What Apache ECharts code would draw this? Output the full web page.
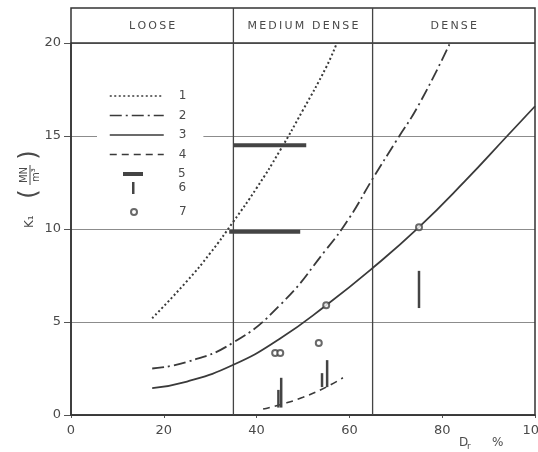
<!DOCTYPE html>
<html>
<head>
<meta charset="utf-8">
<script src="https://cdn.jsdelivr.net/npm/echarts@6/dist/echarts.min.js"></script>
<style>
  html, body { margin: 0; padding: 0; background: #fff; }
  #chart { width: 538px; height: 452px; }
</style>
</head>
<body>
<div id="chart"></div>
<script>
// Relative density D_r (%) against modulus K1 (MN/m3)
const xTicks = [0, 20, 40, 60, 80, 100];
const yTicks = [0, 5, 10, 15, 20];
const zones = ['LOOSE', 'MEDIUM DENSE', 'DENSE'];
const zoneBounds = [0, 35, 65, 100];

// curves: [Dr, K1]
const curve1 = [[17.5, 5.2], [25, 7.2], [30, 8.7], [35, 10.4], [40, 12.2], [45, 14.2], [50, 16.4], [55, 18.7], [57.3, 20]];
const curve2 = [[17.5, 2.5], [25, 2.85], [35, 3.9], [45, 5.9], [55, 8.9], [60, 10.6], [65, 12.7], [70, 14.7], [75, 16.7], [81.7, 20]];
const curve3 = [[17.5, 1.45], [25, 1.8], [35, 2.7], [45, 4.1], [55, 5.9], [65, 7.9], [75, 10.1], [85, 12.6], [94, 15.0], [100, 16.6]];
const curve4 = [[41.4, 0.32], [45, 0.55], [50, 0.95], [55, 1.5], [58.6, 2.0]];

// ranges of type 5: [Dr from, Dr to, K1]
const hBars = [[35, 50.7, 14.5], [34.1, 49.4, 9.85]];
// ranges of type 6: [Dr, K1 from, K1 to]
const vBars = [[75, 5.75, 7.75], [45.3, 0.4, 2.0], [44.7, 0.4, 1.35], [55.2, 1.5, 2.95], [54.1, 1.5, 2.25]];
// single values of type 7: [Dr, K1]
const points = [[44.0, 3.33], [45.1, 3.33], [53.4, 3.87], [55, 5.9], [75, 10.1]];

const INK = '#3a3a3a';
const TXT = '#4a4a4a';
const FONT = 'DejaVu Sans';

function spaced(s) {
  return s.split(' ').map(w => w.split('').join('\u2009')).join('\u2009 \u2009');
}

const chart = echarts.init(document.getElementById('chart'), null, { renderer: 'canvas' });

const lineSeries = (name, data, type, width) => ({
  name, type: 'line', data, smooth: true, showSymbol: false, symbol: 'none',
  lineStyle: { color: INK, width, type }, itemStyle: { color: INK }, z: 3
});

const option = {
  animation: false,
  backgroundColor: '#fff',
  textStyle: { fontFamily: FONT },
  grid: { left: 71, right: 3, top: 43, bottom: 37, outerBoundsMode: 'none', containLabel: false },
  xAxis: {
    type: 'value', min: xTicks[0], max: xTicks[xTicks.length - 1], interval: 20,
    axisLine: { lineStyle: { color: '#333', width: 1.5 } },
    axisTick: { show: true, length: 3, lineStyle: { color: '#555' } },
    axisLabel: { color: TXT, fontSize: 13, margin: 9, fontFamily: FONT },
    splitLine: { show: false }
  },
  yAxis: {
    type: 'value', min: yTicks[0], max: yTicks[yTicks.length - 1], interval: 5,
    axisLine: { show: true, lineStyle: { color: '#333', width: 1.5 } },
    axisTick: { show: true, length: 7, lineStyle: { color: '#555' } },
    axisLabel: { color: TXT, fontSize: 13, margin: 10, fontFamily: FONT },
    splitLine: { show: true, lineStyle: { color: '#8c8c8c', width: 1 } }
  },
  legend: [
    {
      data: ['1', '2', '3', '4'], orient: 'vertical', left: 97, top: 84,
      itemWidth: 54, itemHeight: 10, itemGap: 7.5,
      backgroundColor: '#fff', padding: [6, 17, 6, 12],
      lineStyle: { width: 1.5 },
      itemStyle: { opacity: 0 },
      textStyle: { color: TXT, fontSize: 12, fontFamily: FONT, padding: [0, 0, 0, 10] },
      selectedMode: false
    },
    {
      data: [{ name: '5', icon: 'rect' }], left: 123, top: 168,
      itemWidth: 20, itemHeight: 4, padding: 0,
      textStyle: { color: TXT, fontSize: 12, fontFamily: FONT, padding: [0, 0, 0, 30] },
      selectedMode: false
    },
    {
      data: [{ name: '6', icon: 'rect' }], left: 132, top: 182,
      itemWidth: 2.5, itemHeight: 12, padding: 0,
      textStyle: { color: TXT, fontSize: 12, fontFamily: FONT, padding: [0, 0, 0, 39] },
      selectedMode: false
    },
    {
      data: ['7'], left: 130, top: 206,
      itemWidth: 6, itemHeight: 6, padding: 0,
      itemStyle: { borderWidth: 1.5 },
      textStyle: { color: TXT, fontSize: 12, fontFamily: FONT, padding: [0, 0, 0, 37] },
      selectedMode: false
    }
  ],
  series: [
    lineSeries('1', curve1, [2, 2.5], 2),
    lineSeries('2', curve2, [12, 4, 2, 4], 1.8),
    lineSeries('3', curve3, 'solid', 1.8),
    lineSeries('4', curve4, [7, 5], 1.6),
    {
      name: '5', type: 'custom', data: hBars, encode: { x: [0, 1], y: 2 },
      itemStyle: { color: '#444' }, z: 4,
      renderItem: (params, api) => {
        const a = api.coord([api.value(0), api.value(2)]);
        const b = api.coord([api.value(1), api.value(2)]);
        return { type: 'line', shape: { x1: a[0], y1: a[1], x2: b[0], y2: b[1] },
                 style: { stroke: '#444', lineWidth: 4 } };
      }
    },
    {
      name: '6', type: 'custom', data: vBars, encode: { x: 0, y: [1, 2] },
      itemStyle: { color: '#444' }, z: 4,
      renderItem: (params, api) => {
        const a = api.coord([api.value(0), api.value(1)]);
        const b = api.coord([api.value(0), api.value(2)]);
        return { type: 'line', shape: { x1: a[0], y1: a[1], x2: b[0], y2: b[1] },
                 style: { stroke: '#444', lineWidth: 2.5 } };
      }
    },
    {
      name: '7', type: 'scatter', data: points, symbol: 'emptyCircle', symbolSize: 6,
      itemStyle: { color: '#444', borderWidth: 1.5 }, z: 5
    }
  ]
};

chart.setOption(option);

// frame, zone header and axis titles placed from the axis scales
const px = v => chart.convertToPixel({ xAxisIndex: 0 }, v);
const py = v => chart.convertToPixel({ yAxisIndex: 0 }, v);
const xL = px(zoneBounds[0]), xR = px(zoneBounds[3]);
const yB = py(yTicks[0]), y20 = py(yTicks[yTicks.length - 1]);
const headTop = 8;

const graphic = [
  { type: 'rect', z: 2, shape: { x: xL, y: headTop, width: xR - xL, height: yB - headTop },
    style: { fill: null, stroke: '#333', lineWidth: 1.5 } },
  { type: 'line', z: 2, shape: { x1: xL, y1: y20, x2: xR, y2: y20 },
    style: { stroke: '#333', lineWidth: 1.5 } }
];
[zoneBounds[1], zoneBounds[2]].forEach(b => {
  graphic.push({ type: 'line', z: 2, shape: { x1: px(b), y1: headTop, x2: px(b), y2: yB },
    style: { stroke: '#444', lineWidth: 1.3 } });
});
zones.forEach((name, i) => {
  graphic.push({ type: 'text', z: 3, x: (px(zoneBounds[i]) + px(zoneBounds[i + 1])) / 2, y: (headTop + y20) / 2 + 1,
    style: { text: spaced(name), fill: TXT, font: '11px "DejaVu Sans"', align: 'center', verticalAlign: 'middle' } });
});

// y axis title K1 (MN/m3), read bottom to top
graphic.push({
  type: 'group', x: 30, y: 228, rotation: Math.PI / 2,
  children: [
    { type: 'text', x: 0, y: 0, style: { text: 'K₁', fill: TXT, font: '12px "DejaVu Sans"', align: 'left', verticalAlign: 'middle' } },
    { type: 'text', x: 34, y: 0, style: { text: '(', fill: TXT, font: '24px "DejaVu Sans"', align: 'center', verticalAlign: 'middle' } },
    { type: 'text', x: 53, y: -6, style: { text: 'MN', fill: TXT, font: '10px "DejaVu Sans"', align: 'center', verticalAlign: 'middle' } },
    { type: 'line', shape: { x1: 43, y1: 0, x2: 63, y2: 0 }, style: { stroke: TXT, lineWidth: 1 } },
    { type: 'text', x: 53, y: 6, style: { text: 'm³', fill: TXT, font: '10px "DejaVu Sans"', align: 'center', verticalAlign: 'middle' } },
    { type: 'text', x: 73, y: 0, style: { text: ')', fill: TXT, font: '24px "DejaVu Sans"', align: 'center', verticalAlign: 'middle' } }
  ]
});

// x axis title Dr %
graphic.push({ type: 'text', x: 459, y: 443, style: { text: 'D', fill: TXT, font: '12px "DejaVu Sans"', verticalAlign: 'middle' } });
graphic.push({ type: 'text', x: 467, y: 447, style: { text: 'r', fill: TXT, font: '9px "DejaVu Sans"', verticalAlign: 'middle' } });
graphic.push({ type: 'text', x: 492, y: 443, style: { text: '%', fill: TXT, font: '12px "DejaVu Sans"', verticalAlign: 'middle' } });

chart.setOption({ graphic });
</script>
</body>
</html>
